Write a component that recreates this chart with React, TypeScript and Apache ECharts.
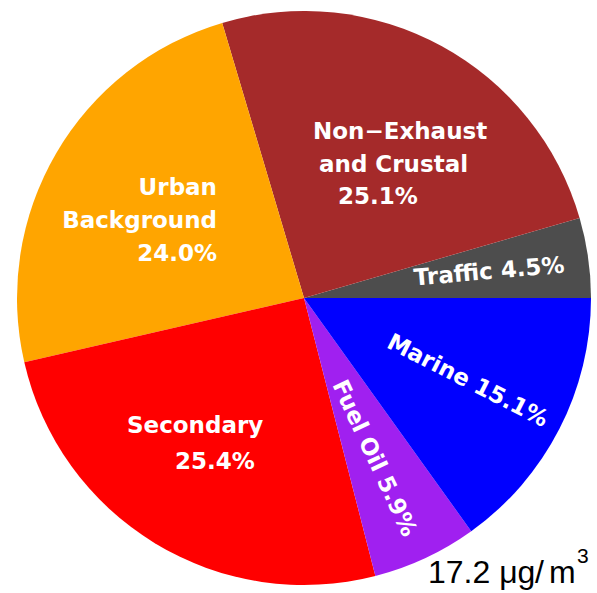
import React, { useEffect, useRef } from 'react';
import * as echarts from 'echarts';

// ---- data ----
const categories = ['Traffic', 'Non−Exhaust\nand Crustal', 'Urban\nBackground', 'Secondary', 'Fuel Oil', 'Marine'];
const shares = [4.5, 25.1, 24.0, 25.4, 5.9, 15.1];
const totalConcentration = 17.2;
const unitBase = 'μg';
const unitDenom = 'm';
const unitPower = '3';

// ---- styles ----
const sliceColors = ['#4d4d4d', '#a52a2a', '#ffa500', '#ff0000', '#a020f0', '#0000ff'];
const percentOnOwnLine = [false, true, true, true, false, false];
const labelOffsets = [[185, -27], [9, -134.5], [-87, -78], [-177, 145], [71, 160], [164, 82]];
const labelAlign = ['center', 'left', 'right', 'left', 'center', 'center'];
const labelRotate = [5, 0, 0, 0, -65, -27];
const lineIndents = [[0], [0, 6, 25], [0, 0, 0], [0, 48], [0], [0]];
const lineHeights = [26, 32.5, 33, 36, 26, 26];

const CX = 304;
const CY = 298;
const R = 287;
const LABEL_FONT = 'DejaVu Sans';

export default function App() {
  const ref = useRef<HTMLDivElement>(null);
  useEffect(() => {
    if (!ref.current) return;
    const chart = echarts.init(ref.current, undefined, { renderer: 'svg' });
    const data = categories.map((name, i) => {
      const pct = `${shares[i].toFixed(1)}%`;
      const lines = name.split('\n');
      if (percentOnOwnLine[i]) lines.push(pct);
      else lines[lines.length - 1] = `${lines[lines.length - 1]} ${pct}`;
      const rich: Record<string, any> = {};
      const parts = lines.map((ln, k) => {
        rich[`l${k}`] = {
          fontFamily: LABEL_FONT,
          fontWeight: 'bold',
          fontSize: 23,
          color: '#ffffff',
          lineHeight: lineHeights[i],
          padding: [0, 0, 0, lineIndents[i][k] || 0],
        };
        return `{l${k}|${ln}}`;
      });
      return {
        name: name.replace('\n', ' '),
        value: shares[i],
        itemStyle: { color: sliceColors[i] },
        label: {
          rotate: labelRotate[i],
          formatter: parts.join('\n'),
          rich,
        },
      };
    });
    const unitStyle = (text: string, size: number) => ({
      text,
      fontFamily: 'Liberation Sans',
      fontSize: size,
      fill: '#000000',
      align: 'left',
      verticalAlign: 'middle',
    });
    chart.setOption({
      animation: false,
      backgroundColor: '#ffffff',
      series: [
        {
          type: 'pie',
          center: [CX, CY],
          radius: R,
          startAngle: 0,
          clockwise: false,
          avoidLabelOverlap: false,
          silent: true,
          itemStyle: { borderWidth: 0 },
          label: {
            show: true,
            position: 'inside',
            fontFamily: LABEL_FONT,
            fontWeight: 'bold',
            fontSize: 23,
            color: '#ffffff',
          },
          labelLine: { show: false },
          labelLayout: (params: any) => {
            const i = params.dataIndex;
            return {
              x: CX + labelOffsets[i][0],
              y: CY + labelOffsets[i][1],
              align: labelAlign[i],
              verticalAlign: 'middle',
            };
          },
          data,
        },
      ],
      graphic: [
        { type: 'text', x: 428, y: 572, style: unitStyle(`${totalConcentration.toFixed(1)} ${unitBase}`, 32) },
        { type: 'text', x: 535, y: 572, style: unitStyle('/', 32) },
        { type: 'text', x: 549, y: 572, style: unitStyle(unitDenom, 32) },
        { type: 'text', x: 577, y: 555, style: unitStyle(unitPower, 21) },
      ],
    });
    return () => chart.dispose();
  }, []);
  return (
    <div
      ref={ref}
      style={{ position: 'absolute', left: 0, top: 0, width: 597, height: 593, background: '#fff' }}
    />
  );
}
